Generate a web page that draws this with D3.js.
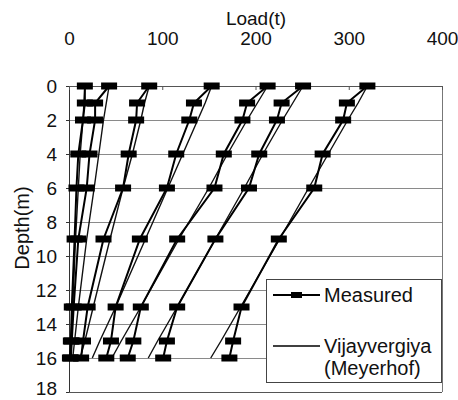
<!DOCTYPE html>
<html><head><meta charset="utf-8">
<script src="https://cdn.jsdelivr.net/npm/d3@7"></script>
<style>body{margin:0;background:#fff}svg{display:block}text{font-family:"Liberation Sans",Arial,sans-serif;fill:#111}</style>
</head><body><svg id="c" width="458" height="400"></svg>
<script>
const depths = [0, 1, 2, 4, 6, 9, 13, 15, 16];
// Measured load (t) for each test, at each depth
const measured1 = [320, 298, 294, 272, 263, 225, 185, 176, 172];
const measured2 = [251, 228, 223, 204, 193, 157, 116, 105, 101];
const measured3 = [213, 191, 186, 166, 156, 116, 77, 69, 63];
const measured4 = [153, 134, 129, 115, 105, 76, 50, 45, 40];
const measured5 = [86, 73, 72, 64, 58, 37, 20, 15, 13];
const measured6 = [43, 28, 28, 22, 19, 10, 5, 3, 2];
const measured7 = [17, 17, 15, 10, 8, 6, 3, 2, 1];
// Vijayvergiya (Meyerhof) calculated
const calc1 = [320, 310, 299, 278, 257, 226, 184, 163, 152];
const calc2 = [251, 240, 229, 208, 188, 157, 116, 95, 85];
const calc3 = [213, 202, 191, 170, 150, 118, 77, 56, 46];
const calc4 = [153, 146, 138, 122, 106, 82, 50, 33, 25];
const calc5 = [86, 81, 77, 68, 58, 44, 26, 17, 12];
const calc6 = [43, 40, 37, 32, 27, 19, 10, 6, 4];
const calc7 = [17, 16, 15, 12, 10, 7, 4, 2, 1];
const xTicks = [0, 100, 200, 300, 400];
const yTicks = [0, 2, 4, 6, 8, 10, 12, 14, 16, 18];
const legendLabels = ["Measured", "Vijayvergiya", "(Meyerhof)"];
const xTitle = "Load(t)", yTitle = "Depth(m)";

const measuredSeries = [measured1, measured2, measured3, measured4, measured5, measured6, measured7];
const calcSeries = [calc1, calc2, calc3, calc4, calc5, calc6, calc7];

const svg = d3.select("#c");
const x = d3.scaleLinear().domain([0, 400]).range([69, 442]);
const y = d3.scaleLinear().domain([0, 18]).range([86, 392]);

// gridlines
svg.append("g").selectAll("line").data(yTicks).join("line")
  .attr("x1", x(0)).attr("x2", x(400))
  .attr("y1", d => y(d)).attr("y2", d => y(d))
  .attr("stroke", d => (d === 0 || d === 18) ? "#555" : "#8a8a8a").attr("stroke-width", 1).attr("shape-rendering", "crispEdges");
// borders
svg.append("line").attr("x1", x(0)).attr("x2", x(0)).attr("y1", y(0)).attr("y2", y(18)).attr("stroke", "#333").attr("shape-rendering", "crispEdges");
svg.append("line").attr("x1", x(400)).attr("x2", x(400)).attr("y1", y(0)).attr("y2", y(18)).attr("stroke", "#777").attr("shape-rendering", "crispEdges");

// axes
const xAxis = svg.append("g").attr("transform", `translate(0,${y(0)})`)
  .call(d3.axisTop(x).tickValues(xTicks).tickSize(-4));
xAxis.select(".domain").remove();
xAxis.selectAll("line").attr("stroke", "#555");
xAxis.selectAll("text").attr("font-size", 19).attr("font-family", "Liberation Sans, Arial, sans-serif").attr("fill", "#111")
  .attr("dy", "0").attr("y", -41);

const yAxis = svg.append("g").attr("transform", `translate(${x(0)},0)`)
  .call(d3.axisLeft(y).tickValues(yTicks).tickSize(3).tickPadding(9));
yAxis.select(".domain").remove();
yAxis.selectAll("line").attr("stroke", "#333");
yAxis.selectAll("text").attr("font-size", 19).attr("font-family", "Liberation Sans, Arial, sans-serif").attr("fill", "#111")
  .attr("dy", d => d === 18 ? "0.12em" : "0.32em");

svg.append("text").attr("x", 256).attr("y", 25).attr("text-anchor", "middle").attr("font-size", 19).text(xTitle);
svg.append("text").attr("transform", "translate(29,228) rotate(-90)").attr("text-anchor", "middle").attr("font-size", 20).text(yTitle);

const line = d3.line().x(d => x(d[1])).y(d => y(d[0]));

// calculated lines
svg.append("g").selectAll("path").data(calcSeries).join("path")
  .attr("d", s => line(depths.map((d, i) => [d, s[i]])))
  .attr("fill", "none").attr("stroke", "#111").attr("stroke-width", 1.4);

// measured lines + markers
const mg = svg.append("g");
mg.selectAll("path").data(measuredSeries).join("path")
  .attr("d", s => line(depths.map((d, i) => [d, s[i]])))
  .attr("fill", "none").attr("stroke", "#000").attr("stroke-width", 2);
measuredSeries.forEach(s => {
  mg.append("g").selectAll("rect").data(depths.map((d, i) => [d, s[i]])).join("rect")
    .attr("x", d => x(d[1]) - 8).attr("y", d => y(d[0]) - 3.5)
    .attr("width", 16).attr("height", 7).attr("fill", "#000");
});

// legend
const lg = svg.append("g");
lg.append("rect").attr("x", 266.5).attr("y", 279.5).attr("width", 175).attr("height", 103)
  .attr("fill", "#fff").attr("stroke", "#444").attr("stroke-width", 1);
lg.append("line").attr("x1", 273).attr("x2", 320).attr("y1", 295).attr("y2", 295).attr("stroke", "#000").attr("stroke-width", 2);
lg.append("rect").attr("x", 291).attr("y", 292).attr("width", 11).attr("height", 6).attr("fill", "#000");
lg.append("line").attr("x1", 273).attr("x2", 320).attr("y1", 346).attr("y2", 346).attr("stroke", "#000").attr("stroke-width", 1.4);
lg.append("text").attr("x", 324).attr("y", 302).attr("font-size", 20).text(legendLabels[0]);
lg.append("text").attr("x", 324).attr("y", 353).attr("font-size", 20).text(legendLabels[1]);
lg.append("text").attr("x", 324).attr("y", 375).attr("font-size", 20).text(legendLabels[2]);
</script></body></html>
